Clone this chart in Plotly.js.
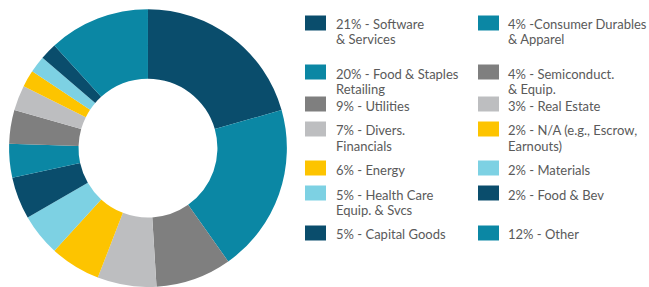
<!DOCTYPE html>
<html>
<head>
<meta charset="utf-8">
<script src="https://cdn.plot.ly/plotly-3.0.1.min.js"></script>
<style>html,body{margin:0;padding:0;background:#fff;}#chart{width:649px;height:287px;}</style>
</head>
<body>
<div id="chart"></div>
<script>
// Slice order (clockwise from 12 o'clock)
var labels = ["Software & Services", "Food & Staples Retailing", "Utilities", "Divers. Financials", "Energy",
  "Health Care Equip. & Svcs", "Capital Goods", "Consumer Durables & Apparel", "Semiconduct. & Equip.",
  "Real Estate", "N/A (e.g., Escrow, Earnouts)", "Materials", "Food & Bev", "Other"];
var values = [21, 20, 9, 7, 6, 5, 5, 4, 4, 3, 2, 2, 2, 12];
var colors = ["#0a4d6c", "#0b87a4", "#7f7f7f", "#bdbec0", "#fdc400", "#7dd1e3", "#0a4d6c",
  "#0b87a4", "#7f7f7f", "#bdbec0", "#fdc400", "#7dd1e3", "#0a4d6c", "#0b87a4"];
var legendText = ["21% - Software<br>& Services", "20% - Food & Staples<br>Retailing", "9% - Utilities",
  "7% - Divers.<br>Financials", "6% - Energy", "5% - Health Care<br>Equip. & Svcs", "5% - Capital Goods",
  "4% -Consumer Durables<br>& Apparel", "4% - Semiconduct.<br>& Equip.", "3% - Real Estate",
  "2% - N/A (e.g., Escrow,<br>Earnouts)", "2% - Materials", "2% - Food & Bev", "12% - Other"];

var W = 649, H = 287;
// legend layout (pixels)
var rowY = [23, 72, 104, 129, 168, 193, 233];
var colSqX = [305, 478];
var colTxtX = [335, 507];
var sqW = 21, sqH = 15, lineH = 15;

var shapes = [], annotations = [];
for (var i = 0; i < labels.length; i++) {
  var col = i < 7 ? 0 : 1;
  var row = i % 7;
  var cy = rowY[row];
  shapes.push({type: "rect", xref: "paper", yref: "paper",
    x0: colSqX[col] / W, x1: (colSqX[col] + sqW) / W,
    y0: 1 - (cy - sqH / 2) / H, y1: 1 - (cy + sqH / 2) / H,
    fillcolor: colors[i], line: {width: 0}});
  var lines = legendText[i].split("<br>");
  for (var k = 0; k < lines.length; k++) {
    annotations.push({xref: "paper", yref: "paper", x: colTxtX[col] / W, y: 1 - (cy + 1.5 + k * lineH) / H,
      xanchor: "left", yanchor: "middle", align: "left", showarrow: false, text: lines[k],
      font: {family: "Lato", size: 13, color: "#5a5a5a"}, borderpad: 0});
  }
}

var trace = {
  type: "pie", labels: labels, values: values, hole: 0.5, sort: false, direction: "clockwise",
  rotation: 0, textinfo: "none", hoverinfo: "label+percent",
  marker: {colors: colors, line: {width: 0}},
  domain: {x: [0, 0.456], y: [0, 0.968]}, showlegend: false
};

var layout = {
  width: W, height: H, margin: {l: 0, r: 0, t: 0, b: 0},
  paper_bgcolor: "#fff", plot_bgcolor: "#fff", showlegend: false,
  shapes: shapes, annotations: annotations
};
Plotly.newPlot("chart", [trace], layout, {displayModeBar: false, staticPlot: true});
</script>
</body>
</html>
